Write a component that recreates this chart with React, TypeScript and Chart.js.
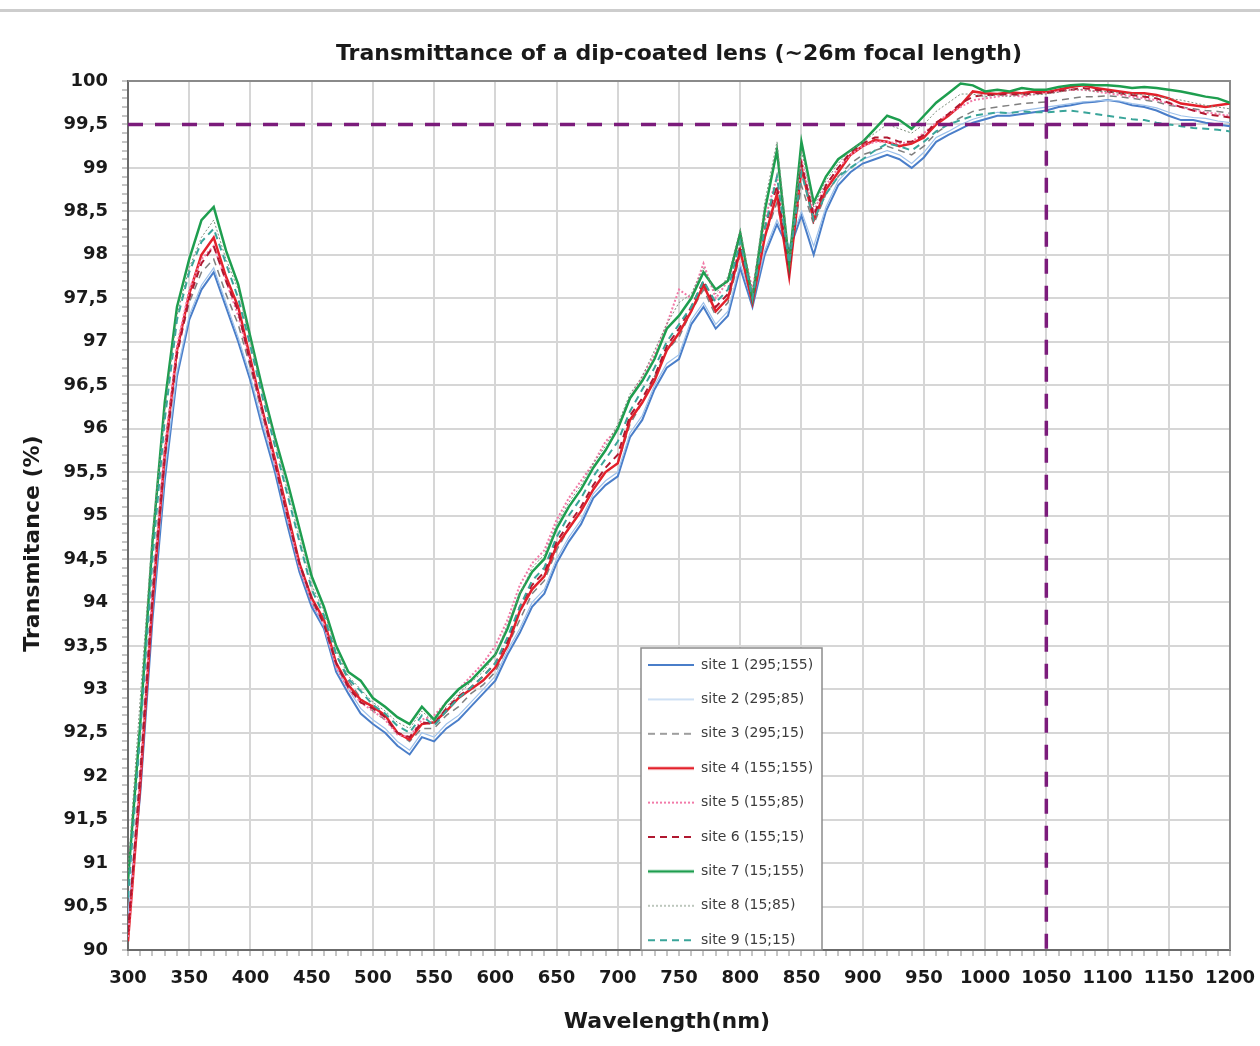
import React, { useEffect, useRef } from 'react';
import { Chart, registerables } from 'chart.js';

Chart.register(...registerables);

// ---------------- data ----------------
const WAVELENGTHS = [
  300, 310, 320, 330, 340, 350, 360, 370, 380, 390,
  400, 410, 420, 430, 440, 450, 460, 470, 480, 490,
  500, 510, 520, 530, 540, 550, 560, 570, 580, 590,
  600, 610, 620, 630, 640, 650, 660, 670, 680, 690,
  700, 710, 720, 730, 740, 750, 760, 770, 780, 790,
  800, 810, 820, 830, 840, 850, 860, 870, 880, 890,
  900, 910, 920, 930, 940, 950, 960, 970, 980, 990,
  1000, 1010, 1020, 1030, 1040, 1050, 1060, 1070, 1080, 1090,
  1100, 1110, 1120, 1130, 1140, 1150, 1160, 1170, 1180, 1190,
  1200,
];

const SITE_1 = [
  90.3, 91.8, 93.8, 95.4, 96.6, 97.25, 97.6, 97.8, 97.4, 97.0,
  96.55, 96.0, 95.5, 94.9, 94.35, 93.95, 93.7, 93.2, 92.95, 92.72,
  92.6, 92.5, 92.35, 92.25, 92.45, 92.4, 92.55, 92.65, 92.8, 92.95,
  93.1, 93.4, 93.65, 93.95, 94.1, 94.45, 94.7, 94.9, 95.2, 95.35,
  95.45, 95.9, 96.1, 96.45, 96.7, 96.8, 97.2, 97.4, 97.15, 97.3,
  97.85, 97.4, 98.0, 98.35, 98.05, 98.45, 98.0, 98.5, 98.8, 98.95,
  99.05, 99.1, 99.15, 99.1, 99.0, 99.12, 99.3, 99.38, 99.45, 99.52,
  99.56, 99.6, 99.6, 99.62, 99.64, 99.66, 99.7, 99.72, 99.75, 99.76,
  99.78, 99.76, 99.72, 99.7, 99.66, 99.6, 99.55, 99.55, 99.52, 99.5,
  99.48,
];

const SITE_2 = [
  90.4, 91.9, 93.9, 95.5, 96.65, 97.3, 97.65, 97.85, 97.45, 97.05,
  96.6, 96.05, 95.55, 94.95, 94.4, 94.0, 93.72, 93.25, 93.0, 92.78,
  92.65, 92.55, 92.4, 92.3, 92.5, 92.45, 92.6, 92.7, 92.85, 93.0,
  93.15, 93.45, 93.7, 94.0, 94.15, 94.5, 94.75, 94.95, 95.25, 95.4,
  95.5, 95.95, 96.15, 96.5, 96.75, 96.85, 97.25, 97.45, 97.2, 97.35,
  97.9, 97.45, 98.05, 98.4, 98.1, 98.5, 98.1, 98.55, 98.85, 99.0,
  99.1, 99.15, 99.2, 99.15, 99.05, 99.18, 99.35, 99.42, 99.5, 99.56,
  99.6, 99.64, 99.63, 99.66, 99.68, 99.7, 99.72, 99.74, 99.76, 99.77,
  99.78, 99.77, 99.74, 99.72, 99.69, 99.64, 99.6, 99.58, 99.57, 99.54,
  99.52,
];

const SITE_3 = [
  90.2, 92.1, 94.2, 95.8, 96.9, 97.45, 97.8, 97.95, 97.55, 97.2,
  96.7, 96.15, 95.6, 95.0, 94.45, 94.0, 93.8, 93.4, 93.1, 92.9,
  92.75, 92.65, 92.5, 92.4, 92.55, 92.55, 92.7, 92.8, 92.95, 93.05,
  93.2, 93.5, 93.8, 94.1, 94.25, 94.6, 94.85, 95.05, 95.3, 95.5,
  95.6, 96.05, 96.3, 96.6, 96.9, 97.05, 97.35, 97.6, 97.3, 97.45,
  98.0, 97.5, 98.2, 98.6, 97.9, 98.8, 98.35, 98.7, 98.9, 99.05,
  99.15, 99.2, 99.25, 99.2, 99.15, 99.25, 99.4, 99.5, 99.58, 99.65,
  99.68, 99.7, 99.72, 99.74, 99.75, 99.76, 99.78, 99.8, 99.82, 99.82,
  99.83, 99.82, 99.8, 99.78, 99.76, 99.72, 99.7, 99.68, 99.66, 99.65,
  99.63,
];

const SITE_4 = [
  90.1, 91.9, 94.0, 95.7, 96.9, 97.55, 98.0, 98.2, 97.75, 97.4,
  96.8, 96.2, 95.65, 95.05, 94.45, 94.05, 93.8, 93.3, 93.05, 92.88,
  92.8, 92.7, 92.5, 92.42, 92.6, 92.62, 92.75, 92.9, 93.0, 93.1,
  93.25, 93.5, 93.9, 94.15, 94.3, 94.65, 94.85, 95.05, 95.3, 95.5,
  95.6, 96.1, 96.3, 96.55, 96.9, 97.1, 97.35, 97.65, 97.35, 97.5,
  98.05, 97.45, 98.2, 98.7, 97.75, 99.0, 98.4, 98.75, 98.95, 99.15,
  99.25, 99.32, 99.3, 99.25, 99.28, 99.35, 99.5, 99.6, 99.72, 99.88,
  99.86, 99.85, 99.87, 99.86, 99.88, 99.87, 99.9, 99.93, 99.95, 99.92,
  99.9, 99.88, 99.86, 99.86, 99.84, 99.8, 99.74, 99.72, 99.7, 99.72,
  99.74,
];

const SITE_5 = [
  90.15, 92.0, 94.1, 95.75, 96.95, 97.6, 97.95, 98.1, 97.7, 97.3,
  96.75, 96.15, 95.6, 95.0, 94.4, 94.0, 93.75, 93.25, 93.0, 92.85,
  92.75, 92.65, 92.48, 92.45, 92.65, 92.7, 92.85, 93.0, 93.15, 93.3,
  93.5, 93.8, 94.2, 94.45, 94.6, 94.95, 95.2, 95.4, 95.6, 95.85,
  96.0, 96.35, 96.6, 96.85, 97.2, 97.6, 97.5, 97.9, 97.5, 97.7,
  98.2, 97.6, 98.4, 98.9, 97.9, 99.1, 98.5, 98.8, 99.0, 99.15,
  99.25, 99.3, 99.3, 99.28, 99.3, 99.4, 99.52, 99.62, 99.7, 99.78,
  99.8, 99.82, 99.84, 99.82, 99.85, 99.86, 99.88, 99.9, 99.9, 99.88,
  99.86, 99.84, 99.82, 99.8, 99.78, 99.74, 99.7, 99.66, 99.64, 99.62,
  99.6,
];

const SITE_6 = [
  90.2, 92.0, 94.05, 95.65, 96.85, 97.5, 97.9, 98.1, 97.7, 97.35,
  96.75, 96.2, 95.6, 95.0, 94.45, 94.05, 93.75, 93.3, 93.02, 92.85,
  92.78, 92.68, 92.5, 92.45, 92.62, 92.6, 92.78, 92.92, 93.02, 93.15,
  93.3, 93.55, 93.95, 94.2, 94.35, 94.7, 94.9, 95.1, 95.35, 95.55,
  95.7, 96.15, 96.35, 96.6, 96.95, 97.15, 97.4, 97.7, 97.4, 97.55,
  98.1, 97.5, 98.3, 98.8, 97.8, 99.05, 98.45, 98.8, 99.0, 99.18,
  99.28, 99.35, 99.35, 99.3, 99.3, 99.38, 99.52, 99.62, 99.74, 99.82,
  99.84, 99.84, 99.85, 99.84, 99.86, 99.86, 99.88, 99.9, 99.92, 99.9,
  99.88, 99.86, 99.84, 99.82, 99.8, 99.75, 99.7, 99.66, 99.62, 99.6,
  99.58,
];

const SITE_7 = [
  90.8, 92.6, 94.7, 96.3, 97.4, 97.95, 98.4, 98.55, 98.05, 97.66,
  97.05, 96.45, 95.9, 95.4, 94.85, 94.3, 93.95, 93.5, 93.2, 93.1,
  92.9, 92.8, 92.68, 92.6, 92.8, 92.65, 92.85, 93.0, 93.1, 93.25,
  93.4, 93.7, 94.1, 94.35, 94.5, 94.85, 95.1, 95.3, 95.55, 95.75,
  96.0, 96.35, 96.55, 96.8, 97.15, 97.3, 97.5, 97.8, 97.6, 97.7,
  98.25, 97.5, 98.5, 99.2, 97.9, 99.3, 98.6, 98.9, 99.1, 99.2,
  99.3, 99.45, 99.6, 99.55, 99.45, 99.6, 99.75, 99.86, 99.97, 99.95,
  99.88, 99.9, 99.88, 99.92, 99.9, 99.9, 99.93, 99.95, 99.96, 99.95,
  99.95, 99.94, 99.92, 99.93, 99.92, 99.9, 99.88, 99.85, 99.82, 99.8,
  99.75,
];

const SITE_8 = [
  90.9, 92.9, 94.8, 96.2, 97.3, 97.85, 98.2, 98.4, 97.95, 97.6,
  97.0, 96.4, 95.85, 95.3, 94.75, 94.2, 93.9, 93.45, 93.15, 93.0,
  92.85, 92.75, 92.62, 92.55, 92.75, 92.62, 92.8, 92.95, 93.08, 93.2,
  93.4, 93.75, 94.1, 94.4, 94.55, 94.9, 95.15, 95.35, 95.6, 95.8,
  96.05, 96.4, 96.6, 96.9, 97.2, 97.45, 97.55, 97.85, 97.55, 97.75,
  98.3, 97.55, 98.6, 99.3, 97.95, 99.2, 98.55, 98.85, 99.05, 99.2,
  99.3, 99.4, 99.5, 99.45, 99.4, 99.5, 99.65, 99.75, 99.85, 99.85,
  99.82, 99.84, 99.82, 99.85, 99.84, 99.85, 99.87, 99.9, 99.9, 99.88,
  99.88, 99.86, 99.85, 99.84, 99.82, 99.8, 99.78, 99.75, 99.72, 99.7,
  99.68,
];

const SITE_9 = [
  90.6, 92.5, 94.5, 96.1, 97.25, 97.8, 98.15, 98.3, 97.9, 97.5,
  96.95, 96.35, 95.8, 95.25, 94.7, 94.15, 93.85, 93.4, 93.12, 92.98,
  92.82, 92.72, 92.58, 92.5, 92.7, 92.58, 92.75, 92.9, 93.02, 93.15,
  93.3, 93.6, 93.95, 94.25, 94.4, 94.75, 95.0, 95.2, 95.45, 95.65,
  95.85, 96.2, 96.45, 96.7, 97.0, 97.2, 97.4, 97.7, 97.45, 97.6,
  98.15, 97.5, 98.3, 98.9, 97.9, 98.95, 98.4, 98.7, 98.9, 99.0,
  99.1, 99.2, 99.28, 99.25, 99.2, 99.3, 99.42, 99.5, 99.55, 99.6,
  99.62, 99.64, 99.63, 99.65, 99.64, 99.64, 99.65, 99.66, 99.64, 99.62,
  99.6, 99.58, 99.56, 99.55, 99.52, 99.5, 99.48, 99.46, 99.45, 99.44,
  99.42,
];

const SITE_LABELS = [
  'site 1 (295;155)',
  'site 2 (295;85)',
  'site 3 (295;15)',
  'site 4 (155;155)',
  'site 5 (155;85)',
  'site 6 (155;15)',
  'site 7 (15;155)',
  'site 8 (15;85)',
  'site 9 (15;15)',
];

const X_MAJOR_TICKS = [300, 350, 400, 450, 500, 550, 600, 650, 700, 750, 800, 850, 900, 950, 1000, 1050, 1100, 1150, 1200];
const Y_MAJOR_TICKS = [90, 90.5, 91, 91.5, 92, 92.5, 93, 93.5, 94, 94.5, 95, 95.5, 96, 96.5, 97, 97.5, 98, 98.5, 99, 99.5, 100];
const X_MINOR_STEP = 10;
const Y_MINOR_STEP = 0.1;

const TARGET_T = 99.5;
const TARGET_WL = 1050;
const TARGET_TOP = 99.82;

const TITLE = 'Transmittance of a dip-coated lens (~26m focal length)';
const X_TITLE = 'Wavelength(nm)';
const Y_TITLE = 'Transmitance (%)';

// ---------------- styles ----------------
const FONT = '"DejaVu Sans", Verdana, sans-serif';
const TEXT = '#1a1a1a';
const GRID = '#d6d6d6';
const PURPLE = '#7b1c7b';

const STYLES = [
  { color: '#4a7ec9', width: 2, dash: [] as number[] },
  { color: '#9ec1ea', width: 1.2, dash: [] as number[] },
  { color: '#7f7f7f', width: 1.5, dash: [7, 5] },
  { color: '#e3212b', width: 2.5, dash: [] as number[] },
  { color: '#f27aa8', width: 2, dash: [2, 2] },
  { color: '#b01830', width: 2, dash: [7, 5] },
  { color: '#1e9e4f', width: 2.5, dash: [] as number[] },
  { color: '#7d8f7d', width: 1, dash: [2, 2] },
  { color: '#3aa59a', width: 2, dash: [7, 5] },
];

const SERIES = [SITE_1, SITE_2, SITE_3, SITE_4, SITE_5, SITE_6, SITE_7, SITE_8, SITE_9];

const X_MIN = X_MAJOR_TICKS[0];
const X_MAX = X_MAJOR_TICKS[X_MAJOR_TICKS.length - 1];
const Y_MIN = Y_MAJOR_TICKS[0];
const Y_MAX = Y_MAJOR_TICKS[Y_MAJOR_TICKS.length - 1];

const X_MINOR: number[] = [];
for (let v = X_MIN; v <= X_MAX + 1e-9; v += X_MINOR_STEP) X_MINOR.push(Math.round(v));
const Y_MINOR: number[] = [];
for (let i = 0; Y_MIN + i * Y_MINOR_STEP <= Y_MAX + 1e-9; i++) Y_MINOR.push(Math.round((Y_MIN + i * Y_MINOR_STEP) * 10) / 10);

const isMajorX = (v: any) => typeof v === 'number' && X_MAJOR_TICKS.includes(Math.round(v));
const isMajorY = (v: any) => typeof v === 'number' && Y_MAJOR_TICKS.some((t) => Math.abs(t - v) < 1e-6);
const fmtY = (v: number) => String(Math.round(v * 10) / 10).replace('.', ',');

// legend placement (pixels on the canvas)
const LEGEND_BOX = { left: 641, top: 648, width: 181, height: 302 };
const LEGEND_PAD = 20.4;
const LEGEND_LINE_X = 648;
const LEGEND_FIRST_Y = 665;
const LEGEND_FONT = 14;
const LEGEND_SAMPLE_W = 46;

function makeLegendIcon(style: { color: string; width: number; dash: number[] }) {
  const c = document.createElement('canvas');
  c.width = LEGEND_SAMPLE_W;
  c.height = 8;
  const g = c.getContext('2d')!;
  g.strokeStyle = style.color;
  g.lineWidth = style.width;
  g.setLineDash(style.dash);
  g.beginPath();
  g.moveTo(0, 4);
  g.lineTo(LEGEND_SAMPLE_W, 4);
  g.stroke();
  return c;
}

const decorPlugin = {
  id: 'decor',
  beforeLayout(chart: any) {
    const lg = chart.legend;
    if (lg && !lg.__patched) {
      lg.__patched = true;
      lg._layers = () => [
        {
          z: 10,
          draw: () => {
            const ctx = chart.ctx;
            ctx.save();
            ctx.fillStyle = '#ffffff';
            ctx.fillRect(LEGEND_BOX.left, LEGEND_BOX.top, LEGEND_BOX.width, LEGEND_BOX.height);
            ctx.strokeStyle = '#8c8c8c';
            ctx.lineWidth = 1.5;
            ctx.strokeRect(LEGEND_BOX.left, LEGEND_BOX.top, LEGEND_BOX.width, LEGEND_BOX.height);
            ctx.restore();
            lg.left = LEGEND_LINE_X - LEGEND_PAD;
            lg.top = LEGEND_FIRST_Y - LEGEND_FONT / 2 - LEGEND_PAD;
            lg.right = LEGEND_BOX.left + LEGEND_BOX.width + 10;
            lg.bottom = 1040;
            lg.draw(chart.chartArea);
          },
        },
      ];
    }
  },
  beforeDraw(chart: any) {
    const ctx = chart.ctx;
    ctx.save();
    ctx.fillStyle = '#ffffff';
    ctx.fillRect(0, 0, chart.width, chart.height);
    ctx.fillStyle = '#cdcdcd';
    ctx.fillRect(0, 9, chart.width, 3);
    ctx.restore();
  },
  beforeDatasetsDraw(chart: any) {
    const { ctx, chartArea: a } = chart;
    ctx.save();
    ctx.strokeStyle = '#8a8a8a';
    ctx.lineWidth = 2;
    ctx.beginPath();
    ctx.moveTo(a.left, a.top);
    ctx.lineTo(a.right, a.top);
    ctx.lineTo(a.right, a.bottom);
    ctx.stroke();
    ctx.restore();
  },
  afterDraw(chart: any) {
    const { ctx, chartArea: a } = chart;
    ctx.save();
    ctx.fillStyle = TEXT;
    ctx.font = `bold 22px ${FONT}`;
    ctx.textAlign = 'center';
    ctx.textBaseline = 'middle';
    ctx.fillText(X_TITLE, (a.left + a.right) / 2 - 12, a.bottom + 72);
    ctx.translate(33, (a.top + a.bottom) / 2 + 28);
    ctx.rotate(-Math.PI / 2);
    ctx.fillText(Y_TITLE, 0, 0);
    ctx.restore();
  },
};

export default function App() {
  const ref = useRef<HTMLCanvasElement>(null);

  useEffect(() => {
    if (!ref.current) return;
    const icons = STYLES.map(makeLegendIcon);
    const datasets: any[] = SERIES.map((vals, i) => ({
      label: SITE_LABELS[i],
      data: WAVELENGTHS.map((w, j) => ({ x: w, y: vals[j] })),
      borderColor: STYLES[i].color,
      backgroundColor: STYLES[i].color,
      borderWidth: STYLES[i].width,
      borderDash: STYLES[i].dash,
      pointRadius: 0,
      pointHoverRadius: 0,
      fill: false,
      tension: 0,
      order: 10 - i,
    }));
    datasets.push({
      label: 'target-T',
      data: [
        { x: X_MIN, y: TARGET_T },
        { x: X_MAX, y: TARGET_T },
      ],
      borderColor: PURPLE,
      borderWidth: 3.5,
      borderDash: [15, 12],
      pointRadius: 0,
      fill: false,
      order: 0,
    });
    datasets.push({
      label: 'target-WL',
      data: [
        { x: TARGET_WL, y: TARGET_TOP },
        { x: TARGET_WL, y: Y_MIN },
      ],
      borderColor: PURPLE,
      borderWidth: 3.5,
      borderDash: [15, 12],
      pointRadius: 0,
      fill: false,
      order: 0,
    });

    const defaultGen = (Chart.defaults as any).plugins.legend.labels.generateLabels;

    const chart = new Chart(ref.current, {
      type: 'line',
      data: { datasets },
      plugins: [decorPlugin],
      options: {
        responsive: false,
        animation: false,
        devicePixelRatio: 1,
        layout: { padding: { left: 0, right: 30, top: 0, bottom: 0 } },
        plugins: {
          title: {
            display: true,
            text: TITLE,
            fullSize: false,
            color: TEXT,
            font: { family: FONT, size: 22, weight: 'bold' },
            padding: { top: 40.8, bottom: 13.8 },
          },
          legend: {
            display: true,
            position: 'chartArea',
            align: 'start',
            labels: {
              usePointStyle: true,
              pointStyle: 'line',
              pointStyleWidth: LEGEND_SAMPLE_W,
              padding: LEGEND_PAD,
              color: '#3c3c3c',
              font: { family: FONT, size: LEGEND_FONT },
              generateLabels: (c: any) =>
                defaultGen(c).map((item: any) =>
                  item.datasetIndex < SERIES.length ? { ...item, pointStyle: icons[item.datasetIndex] } : item
                ),
              filter: (item: any) => item.datasetIndex < SERIES.length,
              sort: (a: any, b: any) => a.datasetIndex - b.datasetIndex,
            },
          },
          tooltip: { enabled: false },
        },
        scales: {
          x: {
            type: 'linear',
            min: X_MIN,
            max: X_MAX,
            afterBuildTicks: (s: any) => {
              s.ticks = X_MINOR.map((v) => ({ value: v }));
            },
            afterFit: (s: any) => {
              s.height = 96;
              s.paddingLeft = 0;
              s.paddingRight = 0;
            },
            ticks: {
              autoSkip: false,
              maxRotation: 0,
              minRotation: 0,
              padding: 12,
              color: TEXT,
              font: { family: FONT, size: 18, weight: 'bold' },
              callback: (v: any) => (isMajorX(v) ? String(v) : ''),
            },
            grid: {
              color: (c: any) => (c.tick && isMajorX(c.tick.value) ? GRID : 'rgba(0,0,0,0)'),
              lineWidth: 2,
              tickColor: '#8c8c8c',
              tickWidth: 1,
              tickLength: 6,
            },
            border: { display: true, color: '#6b6b6b', width: 2 },
          },
          y: {
            type: 'linear',
            min: Y_MIN,
            max: Y_MAX,
            afterBuildTicks: (s: any) => {
              s.ticks = Y_MINOR.map((v) => ({ value: v }));
            },
            afterFit: (s: any) => {
              s.width = 128;
              s.paddingTop = 0;
              s.paddingBottom = 0;
            },
            ticks: {
              autoSkip: false,
              padding: 14,
              color: TEXT,
              font: { family: FONT, size: 18, weight: 'bold' },
              callback: (v: any) => (isMajorY(v) ? fmtY(v) : ''),
            },
            grid: {
              color: (c: any) => (c.tick && isMajorY(c.tick.value) ? GRID : 'rgba(0,0,0,0)'),
              lineWidth: 2,
              tickColor: '#8c8c8c',
              tickWidth: 1,
              tickLength: 6,
            },
            border: { display: true, color: '#6b6b6b', width: 2 },
          },
        },
      } as any,
    });
    return () => chart.destroy();
  }, []);

  return (
    <div style={{ position: 'absolute', left: 0, top: 0, width: 1260, height: 1046, background: '#ffffff' }}>
      <canvas ref={ref} width={1260} height={1046} style={{ display: 'block', width: 1260, height: 1046 }} />
    </div>
  );
}
